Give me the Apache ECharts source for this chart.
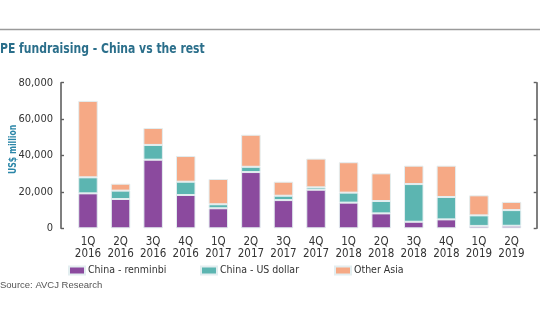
<!DOCTYPE html>
<html><head><meta charset="utf-8">
<script src="https://cdn.jsdelivr.net/npm/echarts@6/dist/echarts.min.js"></script>
<style>html,body{margin:0;padding:0;background:#fff}#c{width:540px;height:334px}</style>
</head><body><div id="c"></div>
<script>
var categories = ['1Q\n2016','2Q\n2016','3Q\n2016','4Q\n2016','1Q\n2017','2Q\n2017','3Q\n2017','4Q\n2017','1Q\n2018','2Q\n2018','3Q\n2018','4Q\n2018','1Q\n2019','2Q\n2019'];
var renminbi = [19200,16100,37700,18300,11000,30900,15500,21200,14100,8200,3600,4900,1300,1400];
var usDollar = [8800,4600,8100,7300,2200,2900,2400,1300,5500,6800,20700,12300,5800,8600];
var otherAsia = [42000,3800,9300,14100,13900,17600,7700,15800,16700,15200,10100,17200,11000,4500];
var seriesNames = ['China - renminbi','China - US dollar','Other Asia'];
var yTicks = {min:0, max:80000, interval:20000};

var colors = ['#8b4a9e','#5cb5b1','#f6a985'];
var font = 'DejaVu Sans Condensed';
var chart = echarts.init(document.getElementById('c'), null, {renderer:'canvas'});
function mk(name, data, i){
  return {name:name, type:'bar', stack:'s', data:data, barWidth:19.5, xAxisIndex:0, yAxisIndex:0,
    itemStyle:{color:colors[i], borderColor:'#e3eef0', borderWidth:1}};
}
function lg(i, left){
  return {data:[seriesNames[i]], left:left, top:265, padding:0, itemWidth:16, itemHeight:8, icon:'rect',
    itemGap:0, textStyle:{fontFamily:font, fontSize:10.5, color:'#333', padding:[0,0,0,-2]}};
}
var axisLineStyle = {show:true, lineStyle:{color:'#5f5f5f', width:1.6}};
var tickStyle = {show:true, inside:true, length:3, lineStyle:{color:'#5f5f5f', width:1.4}};
chart.setOption({
  animation:false,
  color:colors,
  legend:[lg(0,68), lg(1,200), lg(2,334)],
  grid:[
    {left:71.7, right:12.2, top:82.7, bottom:105.7, containLabel:false},
    {left:61, right:3.3, top:82.7, bottom:105.7, containLabel:false}
  ],
  xAxis:[
    {type:'category', gridIndex:0, data:categories, boundaryGap:true,
      axisLine:{show:false}, axisTick:{show:false},
      axisLabel:{fontFamily:font, fontSize:11.5, color:'#333', lineHeight:12, margin:8, interval:0}},
    {type:'category', gridIndex:1, data:categories, show:false}
  ],
  yAxis:[
    {type:'value', gridIndex:0, min:yTicks.min, max:yTicks.max, interval:yTicks.interval, show:false},
    {type:'value', gridIndex:1, position:'left', min:yTicks.min, max:yTicks.max, interval:yTicks.interval,
      axisLine:axisLineStyle, axisTick:tickStyle, splitLine:{show:false},
      axisLabel:{fontFamily:font, fontSize:11, color:'#333', margin:8,
        formatter:function(v){return v.toLocaleString('en-US');}}},
    {type:'value', gridIndex:1, position:'right', min:yTicks.min, max:yTicks.max, interval:yTicks.interval,
      axisLine:axisLineStyle, axisTick:tickStyle, splitLine:{show:false}, axisLabel:{show:false}}
  ],
  graphic:[
    {type:'line', shape:{x1:0,y1:29.5,x2:540,y2:29.5}, style:{stroke:'#9a9a9a', lineWidth:1.5}},
    {type:'text', x:0, y:42, scaleX:0.83, style:{text:'PE fundraising - China vs the rest', font:'bold 14.5px "DejaVu Sans Condensed"', fill:'#2b6f8b'}},
    {type:'text', x:8, y:174, rotation:Math.PI/2, scaleX:0.78, style:{text:'US$ million', font:'bold 11px "DejaVu Sans Condensed"', fill:'#2b86a8'}},
    {type:'text', x:0, y:280, style:{text:'Source: AVCJ Research', font:'9.5px "Liberation Sans", sans-serif', fill:'#555'}}],
  series:[mk(seriesNames[0],renminbi,0), mk(seriesNames[1],usDollar,1), mk(seriesNames[2],otherAsia,2)]
});
</script></body></html>
